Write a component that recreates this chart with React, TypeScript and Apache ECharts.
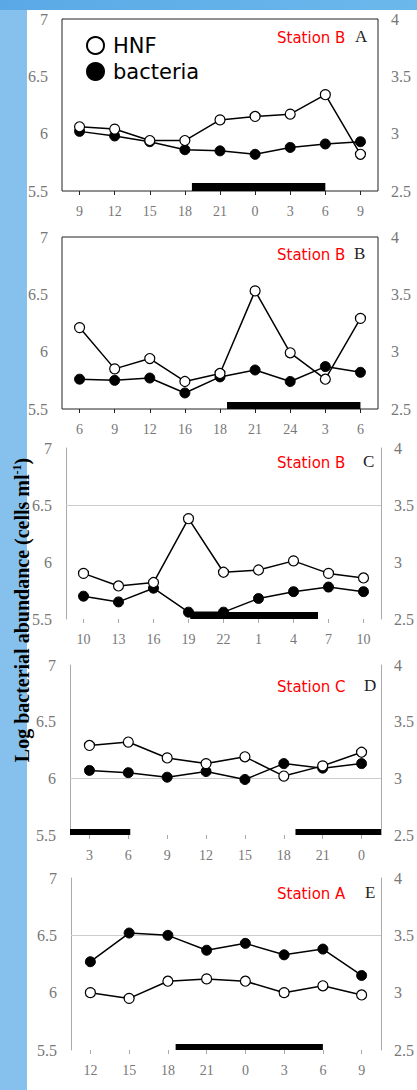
import React, { useEffect, useRef } from "react";
import * as echarts from "echarts";

// ---- data ----
const catA = ["9", "12", "15", "18", "21", "0", "3", "6", "9"];
const catB = ["6", "9", "12", "16", "18", "21", "24", "3", "6"];
const catC = ["10", "13", "16", "19", "22", "1", "4", "7", "10"];
const catD = ["3", "6", "9", "12", "15", "18", "21", "0"];
const catE = ["12", "15", "18", "21", "0", "3", "6", "9"];

// bacteria: left axis (log cells ml-1)
const bactA = [6.02, 5.98, 5.93, 5.86, 5.85, 5.82, 5.88, 5.91, 5.93];
const bactB = [5.76, 5.75, 5.77, 5.64, 5.78, 5.84, 5.74, 5.87, 5.82];
const bactC = [5.7, 5.65, 5.77, 5.56, 5.56, 5.68, 5.74, 5.78, 5.74];
const bactD = [6.07, 6.05, 6.01, 6.06, 5.99, 6.13, 6.09, 6.13];
const bactE = [6.27, 6.52, 6.5, 6.37, 6.43, 6.33, 6.38, 6.15];

// HNF: right axis
const hnfA = [3.06, 3.04, 2.94, 2.94, 3.12, 3.15, 3.17, 3.34, 2.82];
const hnfB = [3.21, 2.85, 2.94, 2.74, 2.81, 3.53, 2.99, 2.76, 3.29];
const hnfC = [2.9, 2.79, 2.82, 3.38, 2.91, 2.93, 3.01, 2.9, 2.86];
const hnfD = [3.29, 3.32, 3.18, 3.13, 3.19, 3.02, 3.11, 3.23];
const hnfE = [3.0, 2.95, 3.1, 3.12, 3.1, 3.0, 3.06, 2.98];

// night periods, in category-index units
const nightA = [[3.2, 7.0]];
const nightB = [[4.2, 8.0]];
const nightC = [[3.05, 6.7]];
const nightD = [[-0.5, 1.05], [5.3, 7.5]];
const nightE = [[2.2, 6.0]];

const stationNames = ["Station B", "Station B", "Station B", "Station C", "Station A"];
const panelLetters = ["A", "B", "C", "D", "E"];
const gridLineValues: (number | null)[] = [null, null, 6.5, 6, 6.5];

const leftMin = 5.5, leftMax = 7, rightMin = 2.5, rightMax = 4, tickStep = 0.5;

const categories = [catA, catB, catC, catD, catE];
const bacteria = [bactA, bactB, bactC, bactD, bactE];
const hnf = [hnfA, hnfB, hnfC, hnfD, hnfE];
const nights = [nightA, nightB, nightC, nightD, nightE];

// ---- layout (styles, not data) ----
const layout = [
  { left: 62, top: 19, width: 316, height: 172, boxed: true, titleY: 38, letterX: 355, bar: 8 },
  { left: 62, top: 237, width: 316, height: 172, boxed: true, titleY: 255, letterX: 354, bar: 7 },
  { left: 66, top: 448, width: 315, height: 171, boxed: false, titleY: 463, letterX: 363, bar: 7 },
  { left: 70, top: 665, width: 316, height: 170, boxed: false, titleY: 687, letterX: 364, bar: 6 },
  { left: 71, top: 878, width: 316, height: 172, boxed: false, titleY: 894, letterX: 365, bar: 6 },
];

const labelGray = "#777";
const serif = '"Liberation Serif", "DejaVu Serif", serif';

export default function App() {
  const ref = useRef<HTMLDivElement>(null);
  useEffect(() => {
    document.body.style.margin = "0";
    if (!ref.current) return;
    const chart = echarts.init(ref.current, undefined, { renderer: "svg" });

    const grids: any[] = [];
    const xAxes: any[] = [];
    const yAxes: any[] = [];
    const series: any[] = [];
    const graphics: any[] = [
      { type: "rect", z: -100, shape: { x: 0, y: 0, width: 27, height: 1090 }, style: { fill: "#86C1EE" } },
      {
        type: "rect", z: -100, shape: { x: 0, y: 0, width: 417, height: 10 },
        style: {
          fill: new echarts.graphic.LinearGradient(0, 0, 1, 0, [
            { offset: 0, color: "#5AA9E6" },
            { offset: 1, color: "#6BB8EC" },
          ]),
        },
      },
      {
        type: "text", x: 22, y: 610, rotation: Math.PI / 2, z: 100,
        style: {
          text: "{a|Log bacterial abundance (cells ml}{s|-1}{a|)}",
          align: "center", verticalAlign: "middle",
          rich: {
            a: { fontSize: 20, fontWeight: "bold", fontFamily: serif, fill: "#000", lineHeight: 22 },
            s: { fontSize: 12, fontWeight: "bold", fontFamily: serif, fill: "#000", verticalAlign: "top", lineHeight: 22 },
          },
        },
      },
    ];

    layout.forEach((L, i) => {
      const axisColor = L.boxed ? "#222" : "#aaa";
      grids.push({
        left: L.left, top: L.top, width: L.width, height: L.height,
        show: L.boxed, borderColor: "#222", borderWidth: 1, backgroundColor: "transparent",
      });
      const n = categories[i].length;
      xAxes.push({
        type: "category", gridIndex: i, data: categories[i], boundaryGap: true,
        axisLine: { show: false, onZero: false },
        axisTick: { show: true, alignWithLabel: true, length: 4, lineStyle: { color: axisColor } },
        axisLabel: { color: labelGray, fontFamily: serif, fontSize: 14, margin: 13, interval: 0 },
        splitLine: { show: false },
      });
      xAxes.push({ type: "value", gridIndex: i, min: -0.5, max: n - 0.5, show: false, axisLine: { onZero: false } });
      yAxes.push({
        type: "value", gridIndex: i, position: "left", min: leftMin, max: leftMax, interval: tickStep,
        axisLine: { show: !L.boxed, onZero: false, lineStyle: { color: "#aaa" } },
        axisTick: { show: false },
        axisLabel: { color: labelGray, fontFamily: serif, fontSize: 16, margin: 14 },
        splitLine: { show: false },
      });
      yAxes.push({
        type: "value", gridIndex: i, position: "right", min: rightMin, max: rightMax, interval: tickStep,
        axisLine: { show: !L.boxed, onZero: false, lineStyle: { color: "#aaa" } },
        axisTick: { show: false },
        axisLabel: { color: labelGray, fontFamily: serif, fontSize: 16, margin: 13 },
        splitLine: { show: false },
      });

      const gl = gridLineValues[i];
      series.push({
        type: "line", name: "bacteria", xAxisIndex: 2 * i, yAxisIndex: 2 * i,
        data: bacteria[i], symbol: "circle", symbolSize: 10, z: 3,
        lineStyle: { color: "#000", width: 1.5 },
        itemStyle: { color: "#000", borderColor: "#000", borderWidth: 1 },
        markLine: gl == null ? undefined : {
          silent: true, symbol: "none", label: { show: false }, z: 1,
          lineStyle: { color: "#ccc", width: 1, type: "solid" },
          data: [{ yAxis: gl }],
        },
      });
      series.push({
        type: "line", name: "HNF", xAxisIndex: 2 * i, yAxisIndex: 2 * i + 1,
        data: hnf[i], symbol: "circle", symbolSize: 10, z: 4,
        lineStyle: { color: "#000", width: 1.5 },
        itemStyle: { color: "#fff", borderColor: "#000", borderWidth: 1.2 },
      });
      series.push({
        type: "custom", name: "night" + i, xAxisIndex: 2 * i + 1, yAxisIndex: 2 * i,
        data: nights[i], clip: false, z: 5,
        renderItem: (params: any, api: any) => {
          const x0 = api.coord([api.value(0), leftMin])[0];
          const x1 = api.coord([api.value(1), leftMin])[0];
          const cs = params.coordSys;
          const bottom = cs.y + cs.height;
          return {
            type: "rect",
            shape: { x: x0, y: bottom - L.bar, width: x1 - x0, height: L.bar },
            style: { fill: "#000" },
          };
        },
      });

      graphics.push({
        type: "text", x: 277, y: L.titleY, z: 100,
        style: { text: stationNames[i], fill: "#ff0000", fontSize: 15, fontFamily: '"DejaVu Sans", sans-serif', verticalAlign: "middle" },
      });
      graphics.push({
        type: "text", x: L.letterX, y: L.titleY - 2, z: 100,
        style: { text: panelLetters[i], fill: "#222", fontSize: 17, fontFamily: serif, verticalAlign: "middle" },
      });
    });

    chart.setOption({
      animation: false,
      backgroundColor: "#fff",
      grid: grids,
      xAxis: xAxes,
      yAxis: yAxes,
      legend: {
        data: ["HNF", "bacteria"], orient: "vertical", left: 81, top: 30,
        icon: "circle", itemWidth: 17, itemHeight: 17, itemGap: 5,
        textStyle: { fontSize: 21, fontFamily: '"DejaVu Sans", sans-serif', color: "#000", padding: [0, 0, 0, 4] },
        selectedMode: false,
      },
      series,
      graphic: graphics,
    });
    return () => chart.dispose();
  }, []);
  return <div ref={ref} style={{ width: 417, height: 1090 }} />;
}
